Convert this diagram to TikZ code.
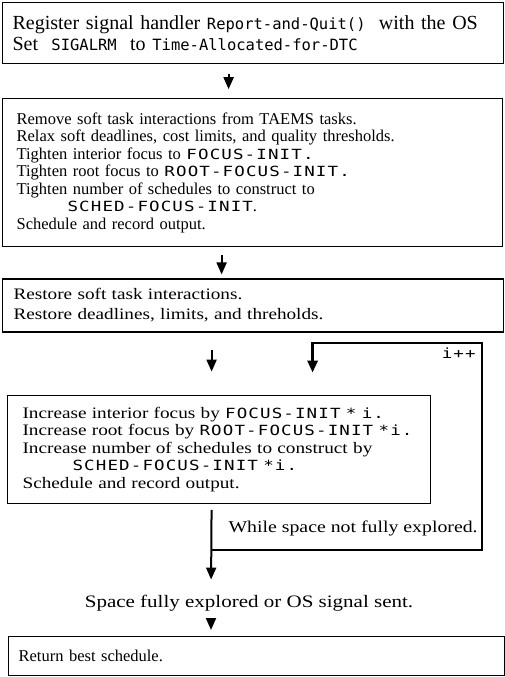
\documentclass[tikz,border=0pt]{standalone}
\usepackage{fontspec}
\setmainfont{Liberation Serif}
\newfontfamily\wideserif[FakeStretch=1.2]{Liberation Serif}
\newfontfamily\monofnt{DejaVu Sans Mono}
\newfontfamily\monowide[FakeStretch=1.25,LetterSpace=8]{DejaVu Sans Mono}
\usetikzlibrary{arrows.meta,positioning}

\newcommand{\prog}[1]{{\monofnt\fontsize{15.5}{18}\selectfont #1}}
\newcommand{\progw}[1]{{\monowide\fontsize{14}{17}\selectfont #1}}

\begin{document}
\begin{tikzpicture}[
        x=1pt, y=1pt,
        every path/.style={thick},
        box/.style={draw, line width=1.2pt, anchor=north west, align=left,
            inner ysep=0pt, font=\fontsize{16.5}{17.5}\selectfont},
        flow/.style={line width=2pt, -{Triangle[length=12pt,width=10pt]}},
        back/.style={line width=2.8pt, -{Triangle[length=12pt,width=10pt]}}
    ]
    \useasboundingbox (0,0) rectangle (504,-677);

    % Nodes
    \node (reg)[box, text width=481pt, inner xsep=10pt, minimum height=61pt,
        font=\fontsize{20}{21}\selectfont] at (2,-2) {Register signal handler \prog{Report-and-Quit()}~~with the OS\\
        Set~~\prog{SIGALRM}~~to \prog{Time-Allocated-for-DTC}};

    \node (relax)[box, below=34pt of reg.south west, anchor=north west,
        text width=472pt, inner xsep=14pt, minimum height=148pt] {Remove soft task interactions from TAEMS tasks.\\
        Relax soft deadlines, cost limits, and quality thresholds.\\
        Tighten interior focus to \progw{FOCUS-INIT.}\\
        Tighten root focus to \progw{ROOT-FOCUS-INIT.}\\
        Tighten number of schedules to construct to\\
        \hspace*{51pt}\progw{SCHED-FOCUS-INIT}.\\
        Schedule and record output.};

    \node (restore)[box, below=31pt of relax.south west, anchor=north west,
        text width=479pt, inner xsep=11pt, minimum height=53pt,
        font=\wideserif\fontsize{16}{20}\selectfont] {Restore soft task interactions.\\
        Restore deadlines, limits, and threholds.};

    \node (incr)[box, below=62pt of restore.south west, anchor=north west, xshift=5pt,
        text width=393pt, inner xsep=15pt, minimum height=108pt,
        font=\wideserif\fontsize{16}{17.5}\selectfont] {Increase interior focus by \progw{FOCUS-INIT * i.}\\
        Increase root focus by \progw{ROOT-FOCUS-INIT *i.}\\
        Increase number of schedules to construct by\\
        \hspace*{50pt}\progw{SCHED-FOCUS-INIT *i.}\\
        Schedule and record output.};

    \node (inc)[anchor=east, inner sep=0pt] at (476,-353) {\progw{i++}};
    \node (more)[anchor=east, inner sep=0pt, font=\wideserif\fontsize{16.5}{17}\selectfont] at (478,-528) {While space not fully explored.};
    \node (done)[inner sep=0pt, font=\wideserif\fontsize{17.5}{18}\selectfont] at (249,-603) {Space fully explored or OS signal sent.};

    \node (ret)[box, text width=476pt, inner xsep=10pt, minimum height=39pt] at (8,-636) {Return best schedule.};

    \coordinate (join) at (211,-550);
    \coordinate (turn) at (482,-343);

    % Edges
    \draw[flow, shorten <=10pt, shorten >=9pt] ([xshift=-24.5pt]reg.south) -- ([xshift=-24pt]relax.north);
    \draw[flow, shorten <=8pt, shorten >=4pt] ([xshift=-31pt]relax.south) -- ([xshift=-31.5pt]restore.north);
    \draw[flow, shorten <=17pt, shorten >=23pt] ([xshift=-41.5pt]restore.south) -- ([xshift=-7.5pt]incr.north);
    \draw[flow, shorten <=6pt, shorten >=15pt] ([xshift=-7.5pt]incr.south) -- (done.north -| join);
    \draw[flow, shorten <=7pt, shorten >=6pt] (done.south -| join) -- (ret.north -| join);
    \draw[back, shorten >=22pt] (join) -| (turn) -| ([xshift=93.5pt]incr.north);

\end{tikzpicture}
\end{document}
